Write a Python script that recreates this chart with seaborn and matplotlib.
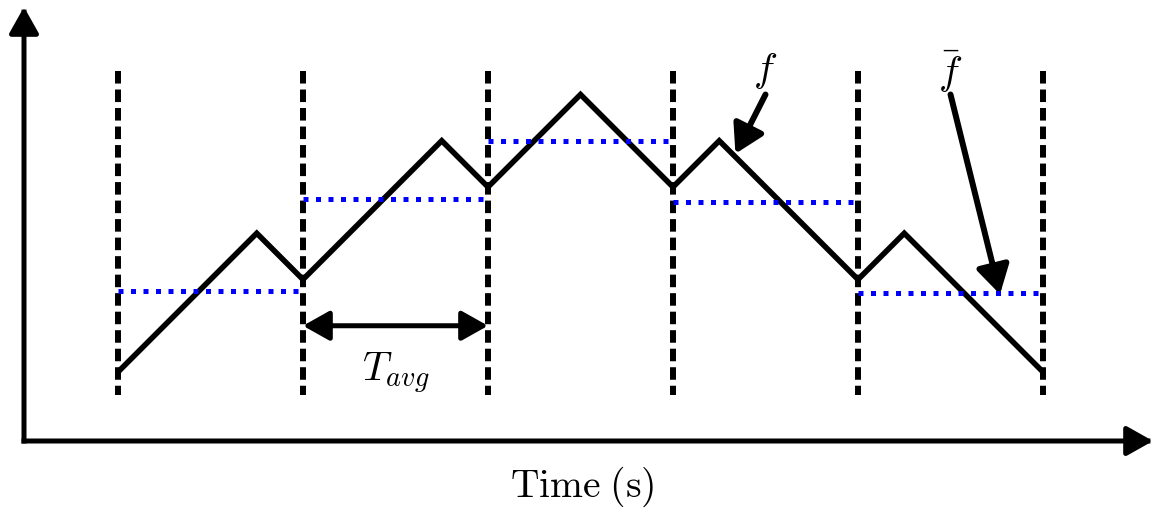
import matplotlib
matplotlib.use("Agg")
import matplotlib.pyplot as plt
import numpy as np
import pandas as pd
import seaborn as sns

# Piecewise-linear signal f(t): knots and values
knot_t = [0, 3, 4, 7, 8, 10, 12, 13, 16, 17, 20]
f_vals = [0, 3, 2, 5, 4, 6, 4, 5, 2, 3, 0]

# Averaging windows (edges) and window averages of f
window_edges = [0, 4, 8, 12, 16, 20]
f_bar = [1.75, 3.75, 5.0, 3.68, 1.70]

x_label = r"$\mathrm{Time\;(s)}$"

sns.set_theme(style="white")
plt.rcParams["mathtext.fontset"] = "cm"
plt.rcParams["font.family"] = ["DejaVu Sans"]
plt.rcParams["text.color"] = "black"
plt.rcParams["axes.labelcolor"] = "black"

W, H = 1155, 508
fig = plt.figure(figsize=(W / 100, H / 100), dpi=100)
ax = fig.add_axes([24 / W, 67 / H, 1129 / W, 434 / H])
ax.set_xlim(-2.032, 22.378)
ax.set_ylim(-1.492, 7.892)
for sp in ax.spines.values():
    sp.set_visible(False)
ax.set_xticks([])
ax.set_yticks([])
ax.set_facecolor("white")

# window boundaries
ax.vlines(window_edges, 6.5, -0.5, colors="black", linewidth=4.3,
          linestyles=[(0, (2.1, 1.0))], zorder=2)

# the signal
df = pd.DataFrame({"t": knot_t, "f": f_vals})
sns.lineplot(data=df, x="t", y="f", color="black", linewidth=4.0,
             sort=False, estimator=None, ax=ax, zorder=3)
ax.lines[-1].set_solid_joinstyle("miter")
ax.set_ylabel("")
ax.set_xlabel("")

# window averages
ax.hlines(f_bar, window_edges[:-1], window_edges[1:], colors="blue",
          linewidth=3.6, linestyles=[(0, (1.0, 1.5))], zorder=4)

# coordinate axes with arrow heads
axis_arrow = dict(arrowstyle="-|>,head_length=16,head_width=9", mutation_scale=1,
                  lw=3.6, color="black", shrinkA=0, shrinkB=0, capstyle="projecting")
ax.annotate("", xy=(1, 0), xytext=(0, 0), xycoords="axes fraction",
            textcoords="axes fraction", arrowprops=axis_arrow, annotation_clip=False)
ax.annotate("", xy=(0, 1), xytext=(0, 0), xycoords="axes fraction",
            textcoords="axes fraction", arrowprops=axis_arrow, annotation_clip=False)

# averaging period
ax.annotate("", xy=(8, 1), xytext=(4, 1),
            arrowprops=dict(arrowstyle="<|-|>,head_length=16,head_width=9",
                            mutation_scale=1, lw=3.6, color="black",
                            shrinkA=0, shrinkB=0))
ax.text(6, 0.47, r"$T_{avg}$", ha="center", va="top", fontsize=29, color="black")

# labels pointing at f and its average
label_arrow = dict(arrowstyle="-|>,head_length=17,head_width=10", mutation_scale=1,
                   lw=4.3, color="black", shrinkA=0, shrinkB=0)
ax.annotate("", xy=(13.35, 4.72), xytext=(14.0, 6.0), arrowprops=label_arrow)
ax.annotate("", xy=(19.07, 1.68), xytext=(18.0, 6.0), arrowprops=label_arrow)
ax.text(14.0, 6.5, r"$f$", ha="center", va="center", fontsize=29, color="black")
ax.text(18.0, 6.5, r"$\bar{f}$", ha="center", va="center", fontsize=29, color="black")

# horizontal axis title
ax.text(0.494, -0.054, x_label, transform=ax.transAxes, ha="center", va="top",
        fontsize=28.5, color="black")

fig.savefig("out.png", dpi=100, facecolor="white")
